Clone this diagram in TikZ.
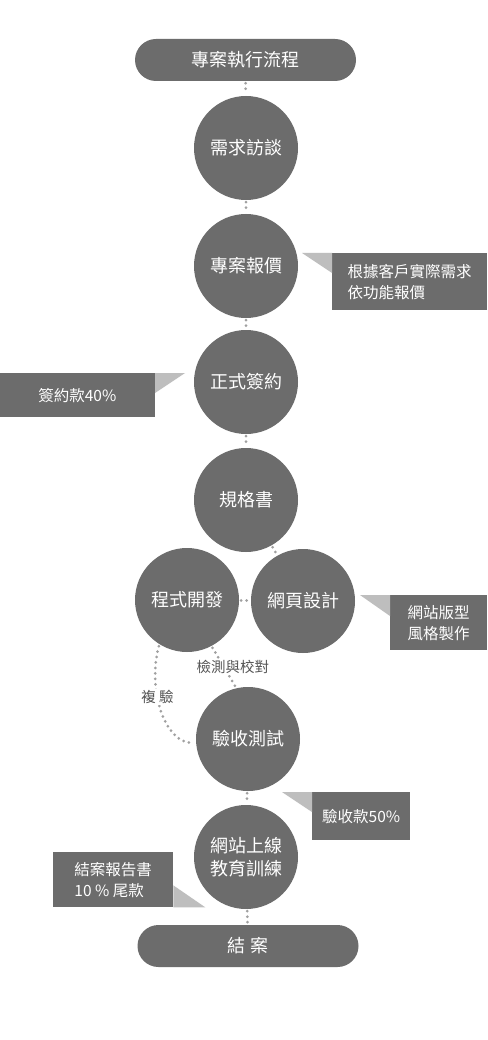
\documentclass[tikz,border=0pt]{standalone}
\usepackage{fontspec}
\setmainfont{Noto Sans CJK TC}
\usetikzlibrary{positioning}
\definecolor{stepgray}{RGB}{108,108,108}
\definecolor{tipgray}{RGB}{190,190,190}
\definecolor{dotgray}{RGB}{160,160,160}
\definecolor{notetext}{RGB}{85,85,85}

\begin{document}
\begin{tikzpicture}[x=1pt,y=-1pt,every node/.style={text=white},
    stage/.style={circle,fill=stepgray,minimum size=104pt,inner sep=0pt,align=center,font=\fontsize{18}{23}\selectfont},
    pill/.style={rectangle,rounded corners=21pt,fill=stepgray,minimum width=221pt,minimum height=42pt,font=\fontsize{18}{23}\selectfont},
    memo/.style={rectangle,fill=stepgray,align=left,inner sep=0pt,font=\fontsize{15.5}{21}\selectfont},
    memotip/.style={fill=tipgray},
    dots/.style={draw=dotgray,line width=3pt,line cap=round,dash pattern=on 0pt off 5.5pt,shorten <=2pt,shorten >=2pt},
    steplabel/.style={fill=white,text=notetext,inner sep=1.5pt,font=\fontsize{14.5}{18}\selectfont}]
    \fill[white] (0,0) rectangle (487,1040);
    \useasboundingbox (0,0) rectangle (487,1040);
    % main flow
    \node[pill] (start) at (245.5,60) {專案執行流程};
    \node[stage] (interview) at (246,148) {需求訪談};
    \node[stage] (quote) at (246,266) {專案報價};
    \node[stage] (sign) at (246,382) {正式簽約};
    \node[stage] (spec) at (246,500) {規格書};
    \node[stage] (dev) at (187,600) {程式開發};
    \node[stage] (web) at (303,601) {網頁設計};
    \node[stage] (test) at (248,739) {驗收測試};
    \node[stage] (launch) at (246,857) {網站上線\\教育訓練};
    \node[pill] (close) at (248,946) {結\ 案};
    % side notes
    \node[memo,anchor=north west,minimum width=155pt,minimum height=57pt] (memoquote) at (332,253) {根據客戶實際需求\\依功能報價};
    \fill[memotip] (memoquote.north west) -- ++(-30,0) -- ++(30,20) -- cycle;
    \node[memo,anchor=north east,minimum width=155pt,minimum height=44pt] (memosign) at (155,373) {簽約款40\%};
    \fill[memotip] (memosign.north east) -- ++(30,0) -- ++(-30,20) -- cycle;
    \node[memo,anchor=north west,minimum width=97pt,minimum height=55pt,align=center] (memoweb) at (390,595) {網站版型\\風格製作};
    \fill[memotip] (memoweb.north west) -- ++(-30,0) -- ++(30,21) -- cycle;
    \node[memo,anchor=north west,minimum width=98pt,minimum height=48pt] (memotest) at (312,792) {驗收款50\%};
    \fill[memotip] (memotest.north west) -- ++(-30,0) -- ++(30,20) -- cycle;
    \node[memo,anchor=north west,minimum width=120pt,minimum height=55pt] (memolaunch) at (53,852) {結案報告書\\10 \% 尾款};
    \fill[memotip] (memolaunch.south east) -- ++(0,-22) -- ++(32,22) -- cycle;
    % dotted links
    \draw[dots] (start) -- (interview);
    \draw[dots] (interview) -- (quote);
    \draw[dots] (quote) -- (sign);
    \draw[dots] (sign) -- (spec);
    \draw[dots] (spec) -- (web);
    \draw[dots] (dev) -- (web);
    \draw[dots] (dev.-62) -- (test.103) node[steplabel,pos=.5,xshift=9pt] (checklabel) {檢測與校對};
    \draw[dots] (dev.238) .. controls (147,690) and (165,745) .. (test.184) node[steplabel,pos=.38] (recheck) {複\ 驗};
    \draw[dots] (test) -- (launch);
    \draw[dots] (launch) -- (close);
\end{tikzpicture}
\end{document}
